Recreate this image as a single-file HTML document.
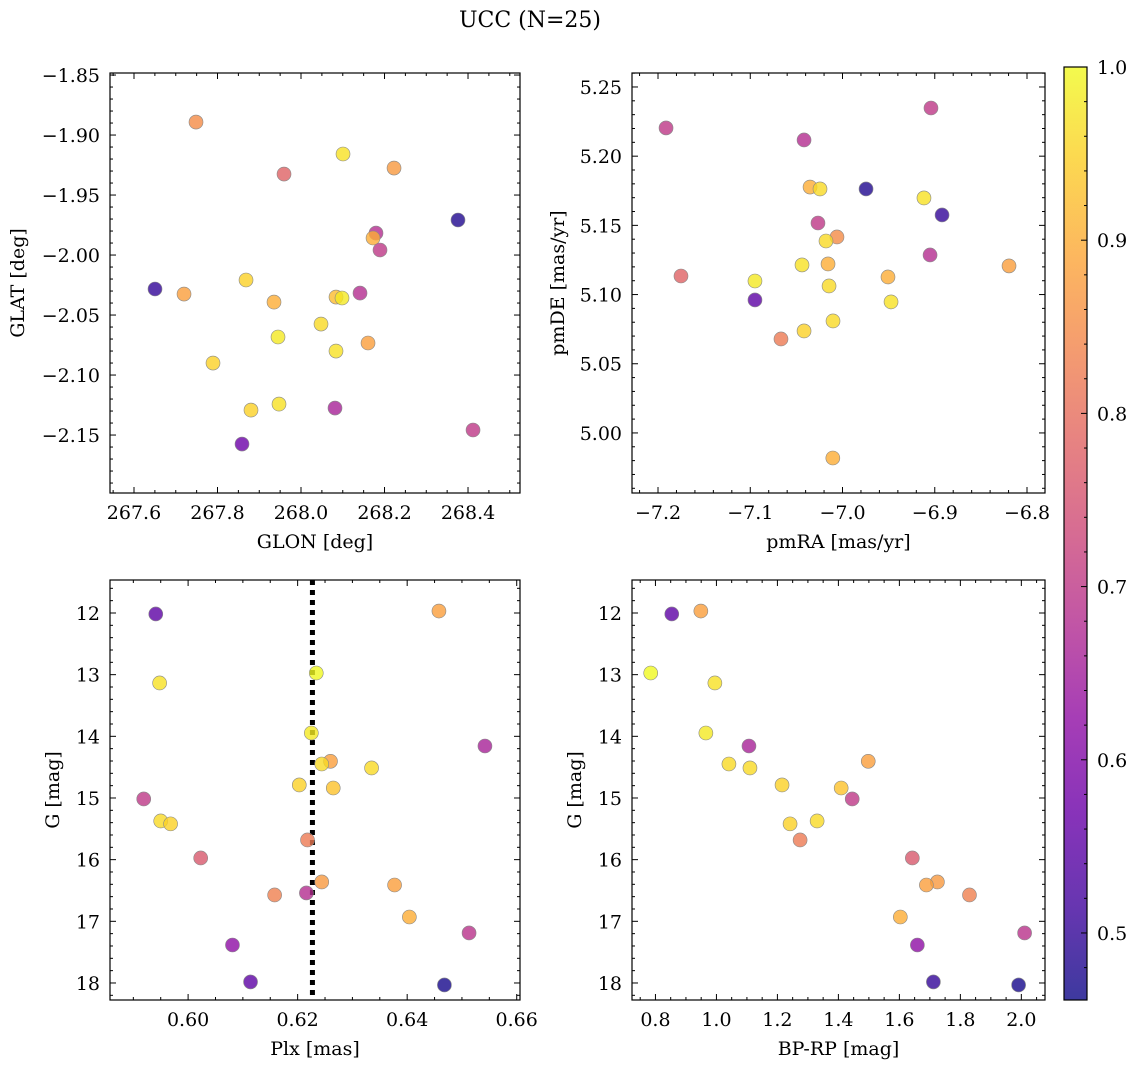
<!DOCTYPE html>
<html><head><meta charset="utf-8">
<style>
body{margin:0;background:#fff;}
svg{display:block;font-family:"DejaVu Serif","Liberation Serif",serif;}
</style></head>
<body>
<svg id="fig" width="1136" height="1067" viewBox="0 0 1136 1067" xmlns="http://www.w3.org/2000/svg">
<defs>
<linearGradient id="cbgrad" x1="0" y1="1" x2="0" y2="0">
<stop offset="0" stop-color="#0d0887"/><stop offset="0.1" stop-color="#41049d"/><stop offset="0.2" stop-color="#6a00a8"/><stop offset="0.3" stop-color="#8f0da4"/><stop offset="0.4" stop-color="#b12a90"/><stop offset="0.5" stop-color="#cc4778"/><stop offset="0.6" stop-color="#e16462"/><stop offset="0.7" stop-color="#f2844b"/><stop offset="0.8" stop-color="#fca636"/><stop offset="0.9" stop-color="#fcce25"/><stop offset="1" stop-color="#f0f921"/>
</linearGradient>
</defs>
<text x="530" y="27" font-size="22" text-anchor="middle">UCC (N=25)</text>
</svg>
<script>
// Panel 1: GLON / GLAT
const p1Lon=[267.7485,267.9593,268.1006,268.2228,268.3760,268.1796,268.1725,268.1892,267.6503,267.7198,267.8683,267.9353,268.1413,268.0838,268.0982,268.0479,267.9449,268.1605,268.0838,267.7892,267.8802,267.9473,268.0814,267.8587,268.4120];
const p1Lat=[-1.8892,-1.9325,-1.9158,-1.9275,-1.9708,-1.9817,-1.9858,-1.9958,-2.0283,-2.0325,-2.0208,-2.0392,-2.0317,-2.0350,-2.0358,-2.0575,-2.0683,-2.0733,-2.0800,-2.0900,-2.1292,-2.1242,-2.1275,-2.1575,-2.1458];
const p1C=[0.85,0.78,0.97,0.87,0.48,0.68,0.90,0.70,0.50,0.88,0.95,0.90,0.68,0.92,0.98,0.96,0.98,0.88,0.97,0.95,0.95,0.97,0.66,0.57,0.70];
// Panel 2: pmRA / pmDE
const p2Ra=[-7.1913,-6.9041,-7.0417,-6.9745,-7.0352,-7.0244,-6.9117,-6.8921,-7.0266,-7.0060,-7.0179,-6.9051,-7.0439,-7.0157,-6.8195,-7.1751,-7.0949,-7.0146,-6.9507,-7.0949,-6.9474,-7.0103,-7.0417,-7.0667,-7.0105];
const p2De=[5.2204,5.2348,5.2117,5.1763,5.1777,5.1763,5.1698,5.1575,5.1517,5.1416,5.1387,5.1286,5.1214,5.1221,5.1207,5.1134,5.1098,5.1062,5.1127,5.0961,5.0947,5.0809,5.0737,5.0679,4.9819];
const p2C=[0.70,0.70,0.68,0.48,0.90,0.96,0.97,0.50,0.70,0.85,0.96,0.68,0.97,0.90,0.88,0.78,0.98,0.96,0.90,0.55,0.97,0.96,0.95,0.82,0.90];
// Panel 3: Plx / G
const p3Plx=[0.5941,0.6458,0.6234,0.5948,0.6225,0.6542,0.6260,0.6244,0.6335,0.6203,0.6265,0.5919,0.5950,0.5968,0.6218,0.6023,0.6244,0.6377,0.6216,0.6158,0.6404,0.6513,0.6081,0.6114,0.6468];
const p3G=[12.016,11.968,12.973,13.135,13.946,14.157,14.405,14.449,14.513,14.789,14.838,15.016,15.373,15.420,15.681,15.973,16.362,16.411,16.540,16.573,16.930,17.189,17.384,17.983,18.032];
const p3C=[0.55,0.88,1.00,0.97,0.98,0.66,0.88,0.96,0.96,0.95,0.93,0.70,0.96,0.95,0.82,0.76,0.87,0.88,0.68,0.83,0.90,0.69,0.62,0.55,0.47];
const plxLine=0.6227;
// Panel 4: BP-RP / G
const p4Bp=[0.8536,0.9489,0.7845,0.9949,0.9654,1.1067,1.0410,1.1100,1.4979,1.2152,1.4091,1.4453,1.2415,1.3302,1.2744,1.6425,1.7247,1.6886,1.8299,1.6031,2.0107,1.6590,1.7116,1.9910];
const p4G=[12.016,11.968,12.973,13.135,13.946,14.157,14.449,14.513,14.405,14.789,14.838,15.016,15.420,15.373,15.681,15.973,16.362,16.411,16.573,16.930,17.189,17.384,17.983,18.032];
const p4C=[0.55,0.88,1.00,0.97,0.98,0.66,0.96,0.96,0.88,0.95,0.93,0.70,0.95,0.96,0.82,0.76,0.87,0.88,0.83,0.90,0.69,0.62,0.50,0.47];
const cbMin=0.4613, cbMax=1.0;
const cbTicks=[0.5,0.6,0.7,0.8,0.9,1.0];

const NS="http://www.w3.org/2000/svg";
const svg=document.getElementById('fig');
const stops=["#0d0887","#41049d","#6a00a8","#8f0da4","#b12a90","#cc4778","#e16462","#f2844b","#fca636","#fcce25","#f0f921"];
function hex(h){return [1,3,5].map(i=>parseInt(h.substr(i,2),16));}
function plasma(v){
  let t=(v-cbMin)/(cbMax-cbMin); t=Math.max(0,Math.min(1,t));
  const f=t*10, i=Math.min(9,Math.floor(f)), r=f-i;
  const a=hex(stops[i]), b=hex(stops[i+1]);
  return 'rgb('+a.map((x,k)=>Math.round(x+(b[k]-x)*r)).join(',')+')';
}
function el(tag,attrs,parent){const e=document.createElementNS(NS,tag);for(const k in attrs)e.setAttribute(k,attrs[k]);(parent||svg).appendChild(e);return e;}
function fmt(v,d){let s=v.toFixed(d);return s.replace('-','\u2212');}

function panel(o){
  const g=el('g',{});
  
  
  const sx=v=>o.x0+(v-o.xmin)/(o.xmax-o.xmin)*(o.x1-o.x0);
  const sy=o.invert? v=>o.y0+(v-o.ymin)/(o.ymax-o.ymin)*(o.y1-o.y0) : v=>o.y1-(v-o.ymin)/(o.ymax-o.ymin)*(o.y1-o.y0);
  const lo=Math.min(o.xmin,o.xmax), hi=Math.max(o.xmin,o.xmax);
  const k0=Math.ceil(lo/o.xminor-1e-6), k1=Math.floor(hi/o.xminor+1e-6);
  for(let k=k0;k<=k1;k++){
    const v=k*o.xminor, x=sx(v);
    const major=Math.abs(v/o.xmajor-Math.round(v/o.xmajor))<1e-4;
    const L=major?6:3;
    el('line',{x1:x,x2:x,y1:o.y1,y2:o.y1-L,stroke:'#000','stroke-width':1},g);
    el('line',{x1:x,x2:x,y1:o.y0,y2:o.y0+L,stroke:'#000','stroke-width':1},g);
    if(major){
      const t=el('text',{x:x,y:o.y1+26,'font-size':19,'text-anchor':'middle'},g);
      
      
      t.textContent=fmt(v,o.xd);
    }
  }
  const ylo=Math.min(o.ymin,o.ymax), yhi=Math.max(o.ymin,o.ymax);
  const j0=Math.ceil(ylo/o.yminor-1e-6), j1=Math.floor(yhi/o.yminor+1e-6);
  for(let j=j0;j<=j1;j++){
    const v=j*o.yminor, y=sy(v);
    const major=Math.abs(v/o.ymajor-Math.round(v/o.ymajor))<1e-4;
    const L=major?6:3;
    el('line',{x1:o.x0,x2:o.x0+L,y1:y,y2:y,stroke:'#000','stroke-width':1},g);
    el('line',{x1:o.x1,x2:o.x1-L,y1:y,y2:y,stroke:'#000','stroke-width':1},g);
    if(major){
      const t=el('text',{x:o.x0-10,y:y+7,'font-size':19,'text-anchor':'end'},g);
      
      
      t.textContent=fmt(v,o.yd);
    }
  }
  if(o.vline!==undefined){
    const l=el('line',{x1:sx(o.vline),x2:sx(o.vline),y1:o.y0,y2:o.y1,stroke:'#000','stroke-width':5,'stroke-dasharray':'5 5'},g);
    
    
  }
  for(let i=0;i<o.xs.length;i++){
    const c=el('circle',{cx:sx(o.xs[i]),cy:sy(o.ys[i]),r:7,fill:plasma(o.cs[i]),'fill-opacity':0.8,stroke:'#888','stroke-width':0.6},g);
    
    
  }
  const fr=el('rect',{x:o.x0,y:o.y0,width:o.x1-o.x0,height:o.y1-o.y0,fill:'none',stroke:'#000','stroke-width':1.2},g);
  
  
  const xl=el('text',{x:(o.x0+o.x1)/2,y:o.y1+55,'font-size':19,'text-anchor':'middle'},g);
  
  
  xl.textContent=o.xlabel;
  const yx=o.x0-o.yoff, yc=(o.y0+o.y1)/2;
  const yl=el('text',{x:yx,y:yc,'font-size':19,'text-anchor':'middle','dominant-baseline':'central',transform:'rotate(-90 '+yx+' '+yc+')'},g);
  
  
  yl.textContent=o.ylabel;
}

panel({name:'glon-glat-panel',x0:110,x1:520,y0:73,y1:493,xmin:267.5425,xmax:268.5245,ymin:-2.1983,ymax:-1.8483,xmajor:0.2,xminor:0.05,ymajor:0.05,yminor:0.01,xd:1,yd:2,xs:p1Lon,ys:p1Lat,cs:p1C,xlabel:'GLON [deg]',ylabel:'GLAT [deg]',yoff:92});
panel({name:'pm-panel',x0:632,x1:1045,y0:73,y1:493,xmin:-7.2282,xmax:-6.7805,ymin:4.9566,ymax:5.2601,xmajor:0.1,xminor:0.02,ymajor:0.05,yminor:0.01,xd:1,yd:2,xs:p2Ra,ys:p2De,cs:p2C,xlabel:'pmRA [mas/yr]',ylabel:'pmDE [mas/yr]',yoff:74});
panel({name:'plx-g-panel',x0:110,x1:520,y0:580,y1:1000,xmin:0.58574,xmax:0.6606,ymin:11.465,ymax:18.276,invert:true,xmajor:0.02,xminor:0.005,ymajor:1,yminor:0.2,xd:2,yd:0,xs:p3Plx,ys:p3G,cs:p3C,vline:plxLine,xlabel:'Plx [mas]',ylabel:'G [mag]',yoff:57});
panel({name:'cmd-panel',x0:632,x1:1045,y0:580,y1:1000,xmin:0.7231,xmax:2.0776,ymin:11.465,ymax:18.276,invert:true,xmajor:0.2,xminor:0.05,ymajor:1,yminor:0.2,xd:1,yd:0,xs:p4Bp,ys:p4G,cs:p4C,xlabel:'BP-RP [mag]',ylabel:'G [mag]',yoff:57});

// colorbar
const cb=el('g',{});


const cx0=1064,cx1=1087,cy0=67,cy1=1000;
el('rect',{x:cx0,y:cy0,width:cx1-cx0,height:cy1-cy0,fill:'url(#cbgrad)','fill-opacity':0.8},cb);
const cbs=v=>cy1-(v-cbMin)/(cbMax-cbMin)*(cy1-cy0);
for(let k=24;k<=50;k++){
  const v=k*0.02, y=cbs(v), major=(k%5===0);
  el('line',{x1:cx1,x2:cx1-(major?6:3),y1:y,y2:y,stroke:'#000','stroke-width':1},cb);
}
cbTicks.forEach(v=>{
  const t=el('text',{x:cx1+10,y:cbs(v)+7,'font-size':19},cb);
  
  
  t.textContent=v.toFixed(1);
});
el('rect',{x:cx0,y:cy0,width:cx1-cx0,height:cy1-cy0,fill:'none',stroke:'#000','stroke-width':1.2},cb);
</script>
</body></html>
